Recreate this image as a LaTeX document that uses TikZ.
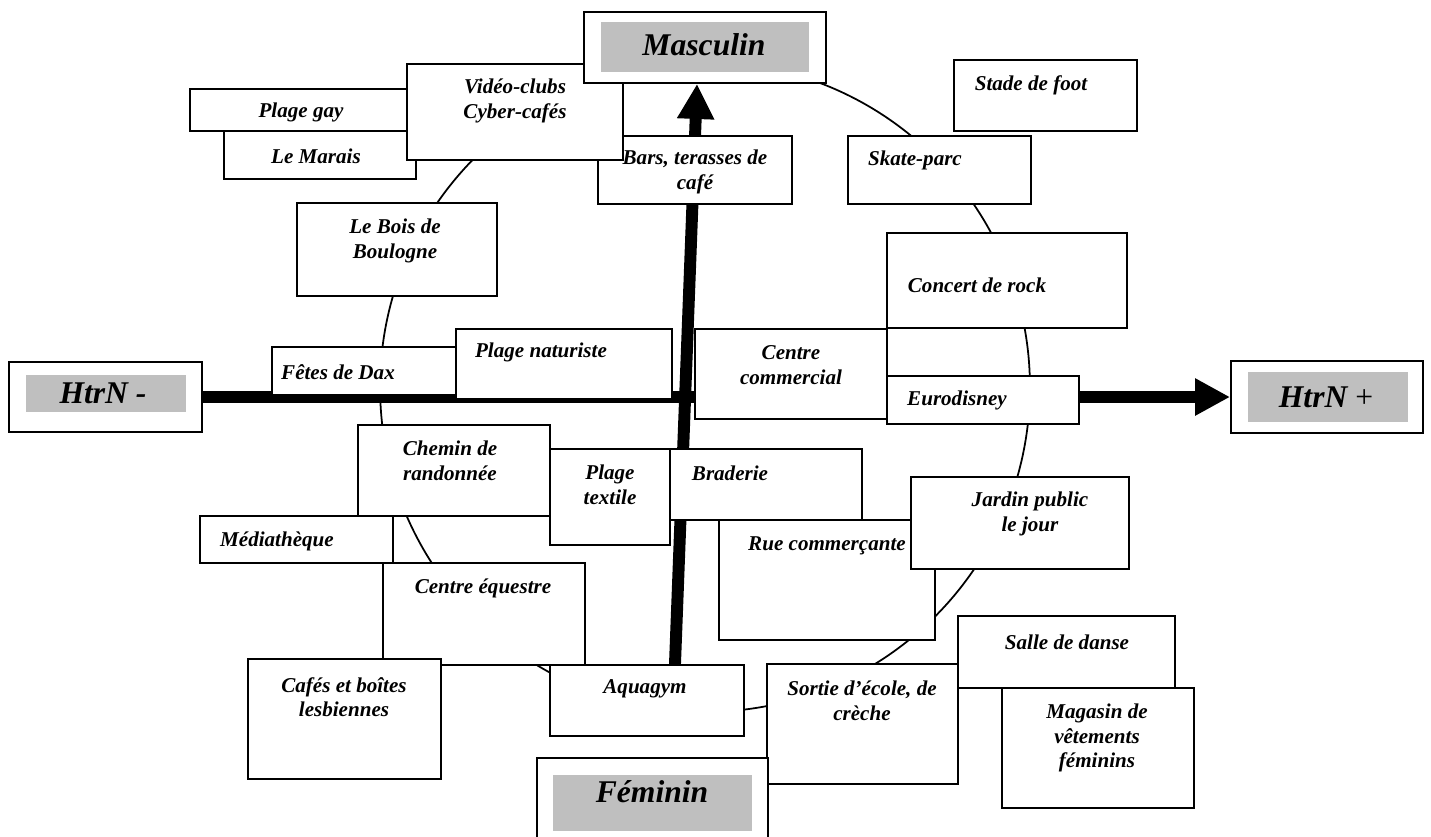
\documentclass[tikz,border=0pt]{standalone}
\usepackage{fontspec}
\setmainfont{Liberation Serif}
\usetikzlibrary{arrows.meta,calc}
\definecolor{gris}{rgb}{0.75,0.75,0.75}
\pgfdeclarelayer{fond}
\pgfsetlayers{fond,main}

\begin{document}
\begin{tikzpicture}[x=0.02cm,y=-0.02cm,
  boite/.style={draw=black,fill=white,line width=1.1pt},
  texte/.style={inner sep=0pt,align=center,font=\bfseries\itshape\fontsize{12}{14}\selectfont},
  titre/.style={inner sep=0pt,font=\bfseries\itshape\fontsize{18}{20}\selectfont},
  cadre/.style={draw=black,fill=white,line width=1.1pt,inner sep=0pt},
  grise/.style={fill=gris,inner sep=0pt},
  fleche/.style={line width=6.8pt,-{Triangle[length=0.7cm,width=0.7cm]}}]
\useasboundingbox (0,0) rectangle (1431,836);
\draw[boite] (954,60) rectangle (1137,131);
\node[texte] (stade) at (1031,85) {Stade de foot};
\draw[boite] (848,136) rectangle (1031,204);
\node[texte] (skate) at (915,160) {Skate-parc};
\draw[boite] (887,233) rectangle (1127,328);
\node[texte] (rock) at (977,285) {Concert de rock};
\draw[boite] (695,329) rectangle (887,419);
\node[texte] (centre) at (791,365) {Centre\\commercial};
\draw[boite] (887,376) rectangle (1079,424);
\node[texte] (disney) at (957,400) {Eurodisney};
\draw[boite] (190,89) rectangle (420,131);
\node[texte] (gay) at (301,112) {Plage gay};
\draw[boite] (224,131) rectangle (416,179);
\node[texte] (marais) at (316,156) {Le Marais};
\draw[boite] (598,136) rectangle (792,204);
\node[texte] (bars) at (695,172) {Bars, terasses de\\café};
\draw[boite] (407,64) rectangle (623,160);
\node[texte] (video) at (515,101) {Vidéo-clubs\\Cyber-cafés};
% Masculin
\node[cadre,minimum width=4.84cm,minimum height=1.42cm] (masc) at (705,47.5) {};
\node[grise,minimum width=4.16cm,minimum height=1cm] (masc-gris) at (705,47) {};
\node[titre] (masc-txt) at (704,45) {Masculin};
\draw[boite] (297,203) rectangle (497,296);
\node[texte] (bois) at (395,241) {Le Bois de\\Boulogne};
\draw[boite] (272,347) rectangle (470,395);
\node[texte] (dax) at (338,372) {Fêtes de Dax};
\draw[boite] (456,329) rectangle (672,399);
\node[texte] (naturiste) at (541,352) {Plage naturiste};
% HtrN - et HtrN +
\node[cadre,minimum width=3.86cm,minimum height=1.4cm] (hmoins) at (105.5,397) {};
\node[grise,minimum width=3.2cm,minimum height=0.74cm] (hmoins-gris) at (106,393.5) {};
\node[titre] (hmoins-txt) at (103,393) {HtrN -};
\node[cadre,minimum width=3.84cm,minimum height=1.44cm] (hplus) at (1327,397) {};
\node[grise,minimum width=3.2cm,minimum height=1cm] (hplus-gris) at (1328,397) {};
\node[titre] (hplus-txt) at (1326,397) {HtrN {\mdseries\upshape +}};
\draw[boite] (358,425) rectangle (550,516);
\node[texte] (chemin) at (450,461) {Chemin de\\randonnée};
\draw[boite] (550,449) rectangle (670,545);
\node[texte] (textile) at (610,485) {Plage\\textile};
\draw[boite] (670,449) rectangle (862,520);
\node[texte] (braderie) at (730,473) {Braderie};
\draw[boite] (719,520) rectangle (935,640);
\node[texte] (rue) at (827,546) {Rue commerçante};
\draw[boite] (911,477) rectangle (1129,569);
\node[texte] (jardin) at (1030,514) {Jardin public\\le jour};
\draw[boite] (200,516) rectangle (393,563);
\node[texte] (media) at (277,541) {Médiathèque};
\draw[boite] (383,563) rectangle (585,665);
\node[texte] (equestre) at (483,588) {Centre équestre};
\draw[boite] (248,659) rectangle (441,779);
\node[texte] (lesbiennes) at (344,697) {Cafés et boîtes\\lesbiennes};
\draw[boite] (550,665) rectangle (744,736);
\node[texte] (aquagym) at (645,689) {Aquagym};
\draw[boite] (767,664) rectangle (958,784);
\node[texte] (sortie) at (862,701) {Sortie d’école, de\\crèche};
\draw[boite] (958,616) rectangle (1175,688);
\node[texte] (danse) at (1067,642) {Salle de danse};
\draw[boite] (1002,688) rectangle (1194,808);
\node[texte] (magasin) at (1097,738) {Magasin de\\vêtements\\féminins};
% Feminin
\node[cadre,minimum width=4.62cm,minimum height=1.68cm] (fem) at (652.5,800) {};
\node[grise,minimum width=3.98cm,minimum height=1.12cm] (fem-gris) at (652.5,803) {};
\node[titre] (fem-txt) at (652,792) {Féminin};
% cercle et axes sous les boites
\begin{pgfonlayer}{fond}
\draw[line width=1pt] (705,387) circle (6.5cm);
\draw[fleche] (hmoins.east) -- (hplus.west);
\coordinate (pied) at (674,690);
\draw[fleche] (pied) -- ($(masc.south)+(-8,0)$);
\end{pgfonlayer}
\end{tikzpicture}
\end{document}
